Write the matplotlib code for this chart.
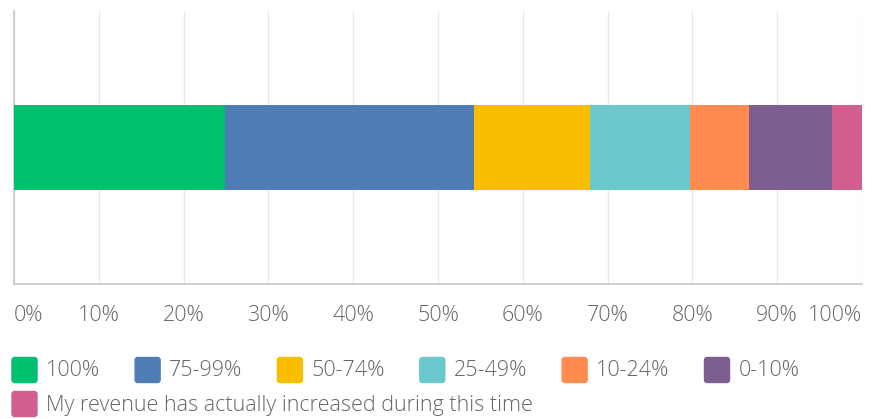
import numpy as np
import matplotlib.pyplot as plt
from matplotlib.patches import FancyBboxPatch

plt.rcParams['font.family'] = ['Open Sans', 'DejaVu Sans']

#### ========== Data ==========

categories = ['100%', '75-99%', '50-74%', '25-49%', '10-24%', '0-10%',
              'My revenue has actually increased during this time']
shares = [24.9, 29.3, 13.7, 11.8, 7.0, 9.8, 3.5]
colors = ['#00BF6F', '#507CB6', '#F9BE00', '#6BC8CD', '#FF8B4F', '#7D5E90',
          '#D25F90']
xticks = np.arange(0, 101, 10)
xticklabels = ['{:d}%'.format(t) for t in xticks]

#### ==========================

W, H = 872, 419
fs = 15.5
tcol = '#666666'

fig = plt.figure(figsize=(W / 100, H / 100), dpi=100)
ax = fig.add_axes([14 / W, 1 - 284 / H, 848 / W, 273 / H])

left = 0.0
for share, col in zip(shares, colors):
    ax.barh(0.5, share, left=left, height=0.31, color=col, zorder=3)
    left += share

ax.set_xlim(0, 100)
ax.set_ylim(0, 1)
ax.set_yticks([])
ax.set_xticks(xticks)
ax.set_xticklabels(xticklabels, fontsize=fs, color=tcol, fontweight='light')
ax.tick_params(axis='x', length=0, pad=15)
labels = ax.get_xticklabels()
labels[0].set_horizontalalignment('left')
labels[-1].set_horizontalalignment('right')

ax.grid(axis='x', color='#e8e8e8', lw=1, zorder=0)
for s in ['top', 'right']:
    ax.spines[s].set_visible(False)
for s in ['left', 'bottom']:
    ax.spines[s].set_color('#c8c8c8')
    ax.spines[s].set_linewidth(1.2)

# legend drawn by hand, in pixel units
fig.canvas.draw()
renderer = fig.canvas.get_renderer()


def fx(p):
    return p / W


def fy(p):
    return 1 - p / H


rows = [(370, categories[:6], colors[:6]), (404, categories[6:], colors[6:])]
for yc, cats, cols in rows:
    x = 12.0
    for cat, col in zip(cats, cols):
        box = FancyBboxPatch((fx(x), fy(yc + 12.5)), 25 / W, 25 / H,
                             boxstyle='round,pad=0,rounding_size=0.003',
                             transform=fig.transFigure, color=col,
                             mutation_aspect=W / H)
        fig.patches.append(box)
        t = fig.text(fx(x + 34), fy(yc + 1), cat, fontsize=fs, color=tcol,
                     va='center', ha='left', fontweight='light')
        bb = t.get_window_extent(renderer)
        x = x + 34 + bb.width + 35

plt.savefig('out.png', dpi=100)
plt.close()
